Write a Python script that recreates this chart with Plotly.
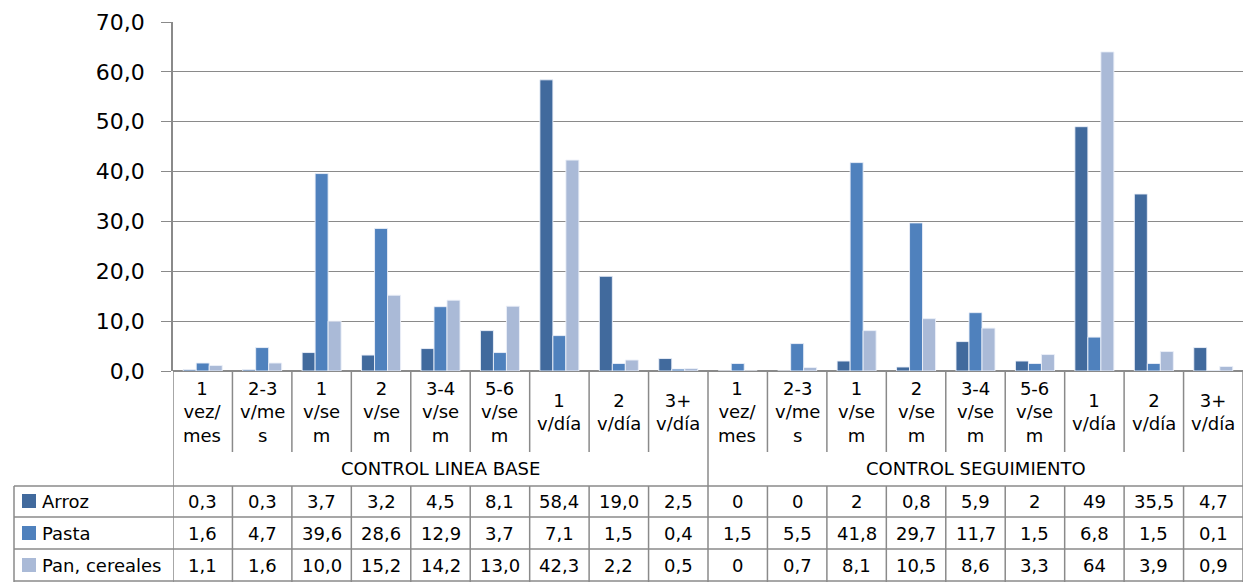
import plotly.graph_objects as go

# Frequency categories (two study phases, nine categories each)
frecuencias = ["1<br>vez/<br>mes", "2-3<br>v/me<br>s", "1<br>v/se<br>m", "2<br>v/se<br>m",
               "3-4<br>v/se<br>m", "5-6<br>v/se<br>m", "1<br>v/día", "2<br>v/día", "3+<br>v/día"]
grupos = ["CONTROL LINEA BASE", "CONTROL SEGUIMIENTO"]

series_nombres = ["Arroz", "Pasta", "Pan, cereales"]
arroz = [0.3, 0.3, 3.7, 3.2, 4.5, 8.1, 58.4, 19.0, 2.5,
         0, 0, 2, 0.8, 5.9, 2, 49, 35.5, 4.7]
pasta = [1.6, 4.7, 39.6, 28.6, 12.9, 3.7, 7.1, 1.5, 0.4,
         1.5, 5.5, 41.8, 29.7, 11.7, 1.5, 6.8, 1.5, 0.1]
pan_cereales = [1.1, 1.6, 10.0, 15.2, 14.2, 13.0, 42.3, 2.2, 0.5,
                0, 0.7, 8.1, 10.5, 8.6, 3.3, 64, 3.9, 0.9]

y_ticks = [0, 10, 20, 30, 40, 50, 60, 70]

colores = ["#416A9D", "#4F81BD", "#AABAD7"]
FONT = "DejaVu Sans"
TXT = 18
GRID = "#8A8A8A"

# Page geometry (pixels)
W, H = 1243, 582
L, T = 173, 22
B_AXIS = 371
PLOT_W = W - L
PLOT_H = B_AXIS - T

n_cat = len(frecuencias) * len(grupos)
xs = list(range(n_cat))


def py(p):
    """pixel row -> paper y"""
    return (B_AXIS - p) / PLOT_H


def px(p):
    """pixel column -> paper x"""
    return (p - L) / PLOT_W


fig = go.Figure()
for nombre, vals, col in zip(series_nombres, [arroz, pasta, pan_cereales], colores):
    fig.add_trace(go.Bar(
        x=xs, y=vals, name=nombre,
        marker=dict(color=col, line=dict(color="rgba(235,240,248,0.9)", width=1)),
        showlegend=False,
    ))

shapes = []
annotations = []
line_style = dict(color=GRID, width=1.5)

# Category boundary lines under the axis and through the data table
for b in range(n_cat + 1):
    xb = b - 0.5
    shapes.append(dict(type="line", xref="x", yref="paper", x0=xb, x1=xb,
                       y0=py(371), y1=py(452), line=line_style))
    shapes.append(dict(type="line", xref="x", yref="paper", x0=xb, x1=xb,
                       y0=py(486), y1=py(582), line=line_style))
    if b in (0, len(frecuencias), n_cat):
        shapes.append(dict(type="line", xref="x", yref="paper", x0=xb, x1=xb,
                           y0=py(452), y1=py(486), line=line_style))

# Left column of the table
shapes.append(dict(type="line", xref="paper", yref="paper", x0=px(14), x1=px(14),
                   y0=py(486), y1=py(582), line=line_style))
for yr in (486, 517, 549, 581):
    shapes.append(dict(type="line", xref="paper", yref="paper", x0=px(14), x1=1,
                       y0=py(yr), y1=py(yr), line=line_style))

# Category labels
for i in range(n_cat):
    annotations.append(dict(x=i, y=py(412), xref="x", yref="paper",
                            text=frecuencias[i % len(frecuencias)], showarrow=False,
                            xanchor="center", yanchor="middle",
                            font=dict(family=FONT, size=TXT, color="black")))

# Group labels
for g, nombre in enumerate(grupos):
    centro = g * len(frecuencias) + (len(frecuencias) - 1) / 2
    annotations.append(dict(x=centro, y=py(468), xref="x", yref="paper",
                            text=nombre, showarrow=False, xanchor="center", yanchor="middle",
                            font=dict(family=FONT, size=TXT, color="black")))


def fmt(v, grupo):
    if grupo == 0:
        s = f"{v:.1f}"
    else:
        s = f"{v:g}"
    return s.replace(".", ",")


row_centers = [501, 533, 565]
for r, (nombre, vals, col) in enumerate(zip(series_nombres, [arroz, pasta, pan_cereales], colores)):
    yc = row_centers[r]
    # legend key
    shapes.append(dict(type="rect", xref="paper", yref="paper",
                       x0=px(22), x1=px(36), y0=py(yc - 7), y1=py(yc + 7),
                       fillcolor=col, line=dict(width=0)))
    annotations.append(dict(x=px(40), y=py(yc), xref="paper", yref="paper",
                            text=nombre, showarrow=False, xanchor="left", yanchor="middle",
                            font=dict(family=FONT, size=TXT, color="black")))
    for i, v in enumerate(vals):
        annotations.append(dict(x=i, y=py(yc), xref="x", yref="paper",
                                text=fmt(v, i // len(frecuencias)), showarrow=False,
                                xanchor="center", yanchor="middle",
                                font=dict(family=FONT, size=TXT, color="black")))

fig.update_layout(
    width=W, height=H,
    margin=dict(l=L, r=0, t=T, b=H - B_AXIS, pad=0),
    paper_bgcolor="white", plot_bgcolor="white",
    barmode="group", bargap=0.344, bargroupgap=0,
    shapes=shapes, annotations=annotations,
    xaxis=dict(range=[-0.5, n_cat - 0.5], showticklabels=False, showgrid=False,
               zeroline=False, showline=False, ticks=""),
    yaxis=dict(range=[0, 70], tickvals=y_ticks,
               ticktext=[f"{v:.1f}".replace(".", ",") for v in y_ticks],
               showgrid=True, gridcolor=GRID, gridwidth=1.3,
               zeroline=True, zerolinecolor=GRID, zerolinewidth=1.5,
               showline=True, linecolor=GRID, linewidth=1.5,
               ticks="outside", ticklen=10, tickcolor=GRID, tickwidth=1.3,
               ticklabelstandoff=12,
               tickfont=dict(family=FONT, size=22, color="black")),
)

fig.write_html("out.html")
